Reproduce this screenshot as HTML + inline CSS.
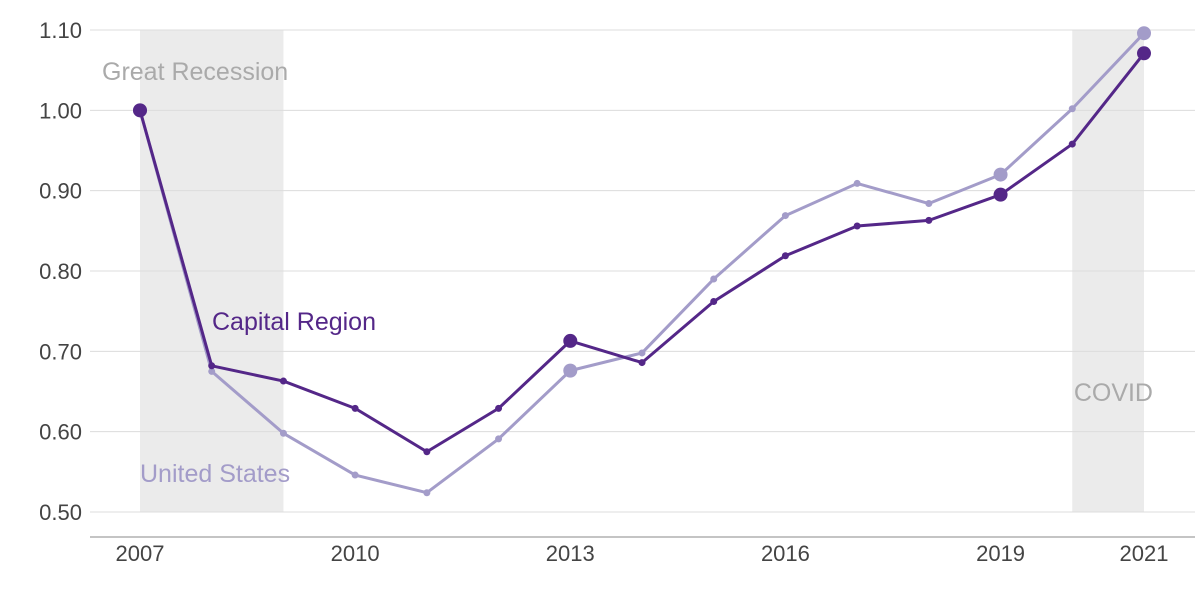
<!DOCTYPE html>
<html><head><meta charset="utf-8"><style>
body{margin:0;background:#fff}
svg{display:block;font-family:"Liberation Sans",sans-serif}
</style></head><body>
<svg id="chart" width="1200" height="600">
<g id="shades"></g><g id="grid"></g><g id="lines"></g><g id="labels"></g>
</svg>
<script>
const years=[2007,2008,2009,2010,2011,2012,2013,2014,2015,2016,2017,2018,2019,2020,2021];
const capital=[1.00,0.682,0.663,0.629,0.575,0.629,0.713,0.686,0.762,0.819,0.856,0.863,0.895,0.958,1.071];
const us=[1.00,0.675,0.598,0.546,0.524,0.591,0.676,0.698,0.790,0.869,0.909,0.884,0.920,1.002,1.096];
const yTicks=[0.5,0.6,0.7,0.8,0.9,1.0,1.1];
const xTicks=[2007,2010,2013,2016,2019,2021];
const bigYears=[2007,2013,2019,2021];
const shadeRanges=[[2007,2009,"Great Recession"],[2020,2021,"COVID"]];
const NS="http://www.w3.org/2000/svg";
const x=v=>140+(v-2007)*(1144-140)/14;
const y=v=>512-(v-0.5)*(512-30)/0.6;
function mk(tag,attrs,parent,text){const e=document.createElementNS(NS,tag);for(const k in attrs)e.setAttribute(k,attrs[k]);if(text!==undefined)e.textContent=text;parent.appendChild(e);return e;}
const shades=document.getElementById('shades'),grid=document.getElementById('grid'),lines=document.getElementById('lines'),labels=document.getElementById('labels');
shadeRanges.forEach(r=>{
 const e=mk('rect',{x:x(r[0]),y:y(1.1),width:x(r[1])-x(r[0]),height:y(0.5)-y(1.1),fill:'#ebebeb'},shades);
 
 
});
yTicks.forEach(t=>{
 const l=mk('line',{x1:90,x2:1195,y1:y(t),y2:y(t),stroke:'#dcdcdc','stroke-width':1},grid);
 
 
 const tx=mk('text',{x:82,y:y(t)+8,'text-anchor':'end','font-size':22,fill:'#444'},labels,t.toFixed(2));
 
 
});
const ax=mk('line',{x1:90,x2:1195,y1:537,y2:537,stroke:'#888','stroke-width':1},grid);


xTicks.forEach(t=>{
 const tx=mk('text',{x:x(t),y:561,'text-anchor':'middle','font-size':22,fill:'#444'},labels,String(t));
 
 
});
function series(vals,color,name){
 const p=mk('polyline',{points:years.map((yr,i)=>x(yr)+','+y(vals[i])).join(' '),fill:'none',stroke:color,'stroke-width':3,'stroke-linejoin':'round'},lines);
 
 
 years.forEach((yr,i)=>{
  const c=mk('circle',{cx:x(yr),cy:y(vals[i]),r:bigYears.includes(yr)?7:3.5,fill:color},lines);
  
  
 });
}
series(us,'#a39cc9','united-states');
series(capital,'#542788','capital-region');
let t;
t=mk('text',{x:102,y:80,'font-size':25,fill:'#aaa'},labels,'Great Recession');


t=mk('text',{x:1153,y:401,'font-size':25,fill:'#aaa','text-anchor':'end'},labels,'COVID');


t=mk('text',{x:212,y:330,'font-size':25,fill:'#542788'},labels,'Capital Region');


t=mk('text',{x:140,y:482,'font-size':25,fill:'#a39cc9'},labels,'United States');


</script>
</body></html>
